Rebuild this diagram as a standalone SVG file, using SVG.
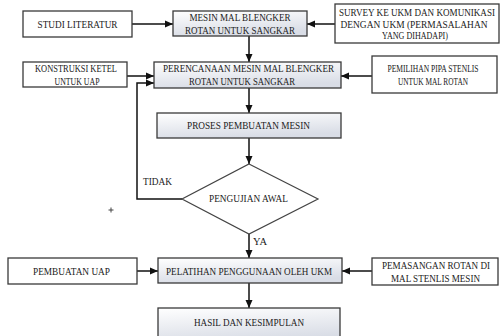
<svg xmlns="http://www.w3.org/2000/svg" width="500" height="336" viewBox="0 0 500 336">
<defs>
<linearGradient id="g" x1="0" y1="0" x2="0.3" y2="1">
<stop offset="0" stop-color="#ffffff"/>
<stop offset="1" stop-color="#d9dde6"/>
</linearGradient>
<marker id="ah" viewBox="0 0 8 8" refX="8" refY="4" markerWidth="8" markerHeight="8" markerUnits="userSpaceOnUse" orient="auto">
<path d="M0,0.5 L8,4 L0,7.5 Z" fill="#111"/>
</marker>
</defs>
<style>
.box{fill:#fff;stroke:#3a3a3a;stroke-width:1.3}
.main{fill:url(#g);stroke:#3a3a3a;stroke-width:1.3}
text{font-family:'Liberation Serif','DejaVu Serif',serif;font-size:10px;fill:#222}
.t{text-anchor:middle}
.c{fill:none;stroke:#111;stroke-width:1.5;marker-end:url(#ah)}
</style>
<rect width="500" height="336" fill="#fff"/>

<g id="connectors">
<line class="c" x1="132" y1="24" x2="173" y2="24"/>
<line class="c" x1="335" y1="24" x2="307" y2="24"/>
<line class="c" x1="249" y1="36" x2="249" y2="62"/>
<line class="c" x1="127" y1="76" x2="154" y2="76"/>
<polyline class="c" points="182,199 137,199 137,83 154,83"/>
<line class="c" x1="372" y1="76" x2="341" y2="76"/>
<line class="c" x1="249" y1="88" x2="249" y2="113"/>
<line class="c" x1="249" y1="138" x2="249" y2="164"/>
<line class="c" x1="249" y1="234" x2="249" y2="258"/>
<line class="c" x1="137" y1="271" x2="158" y2="271"/>
<line class="c" x1="372" y1="271" x2="342" y2="271"/>
<line class="c" x1="249" y1="283" x2="249" y2="308"/>
<text x="143" y="185" textLength="29" lengthAdjust="spacingAndGlyphs">TIDAK</text>
<text x="253" y="245" textLength="14" lengthAdjust="spacingAndGlyphs">YA</text>
</g>

<g id="studi">
<rect class="box" x="23" y="11" width="109" height="26"/>
<text class="t" x="77.5" y="27.5" textLength="80" lengthAdjust="spacingAndGlyphs">STUDI LITERATUR</text>
</g>

<g id="mesin">
<rect class="main" x="173" y="11" width="134" height="25"/>
<text class="t" x="240" y="20.5" textLength="101" lengthAdjust="spacingAndGlyphs">MESIN MAL BLENGKER</text>
<text class="t" x="240" y="33.5" textLength="110" lengthAdjust="spacingAndGlyphs">ROTAN UNTUK SANGKAR</text>
</g>

<g id="survey">
<rect class="box" x="335" y="4" width="164" height="39"/>
<text class="t" x="417" y="15.5" textLength="156" lengthAdjust="spacingAndGlyphs" font-size="9">SURVEY KE UKM DAN KOMUNIKASI</text>
<text class="t" x="414" y="27.5" textLength="147" lengthAdjust="spacingAndGlyphs" font-size="9.5">DENGAN UKM (PERMASALAHAN</text>
<text class="t" x="415" y="38.5" textLength="66" lengthAdjust="spacingAndGlyphs" font-size="9.5">YANG DIHADAPI)</text>
</g>

<g id="konstruksi">
<rect class="box" x="23" y="62" width="104" height="25"/>
<text class="t" x="76" y="71.5" textLength="82" lengthAdjust="spacingAndGlyphs">KONSTRUKSI KETEL</text>
<text class="t" x="77" y="84.5" textLength="45" lengthAdjust="spacingAndGlyphs">UNTUK UAP</text>
</g>

<g id="perencanaan">
<rect class="main" x="154" y="62" width="187" height="26"/>
<text class="t" x="248.5" y="72" textLength="171" lengthAdjust="spacingAndGlyphs" font-size="9.5">PERENCANAAN MESIN MAL BLENGKER</text>
<text class="t" x="242" y="85" textLength="106" lengthAdjust="spacingAndGlyphs">ROTAN UNTUK SANGKAR</text>
</g>

<g id="pemilihan">
<rect class="box" x="372" y="56" width="125" height="37"/>
<text class="t" x="433" y="72" textLength="91" lengthAdjust="spacingAndGlyphs" font-size="9.5">PEMILIHAN PIPA STENLIS</text>
<text class="t" x="433" y="84.5" textLength="70" lengthAdjust="spacingAndGlyphs">UNTUK MAL ROTAN</text>
</g>

<g id="proses">
<rect class="main" x="157" y="113" width="184" height="25"/>
<text class="t" x="248.5" y="128.5" textLength="123" lengthAdjust="spacingAndGlyphs">PROSES PEMBUATAN MESIN</text>
</g>

<g id="pengujian">
<polygon points="249,164 318,199 249,234 182,199" fill="#fff" stroke="#444" stroke-width="1.2"/>
<text class="t" x="248.5" y="202" textLength="79" lengthAdjust="spacingAndGlyphs">PENGUJIAN AWAL</text>
</g>

<g id="plus">
<path d="M108.5,210 H113.5 M111,207.5 V212.5" stroke="#444" stroke-width="1"/>
</g>

<g id="pembuatan-uap">
<rect class="box" x="8" y="258" width="129" height="26"/>
<text class="t" x="71.5" y="275" textLength="77" lengthAdjust="spacingAndGlyphs">PEMBUATAN UAP</text>
</g>

<g id="pelatihan">
<rect class="main" x="158" y="258" width="184" height="25"/>
<text class="t" x="249" y="275" textLength="166" lengthAdjust="spacingAndGlyphs">PELATIHAN PENGGUNAAN OLEH UKM</text>
</g>

<g id="pemasangan">
<rect class="box" x="372" y="258" width="126" height="27"/>
<text class="t" x="436" y="268.5" textLength="108" lengthAdjust="spacingAndGlyphs">PEMASANGAN ROTAN DI</text>
<text class="t" x="435.5" y="281.5" textLength="89" lengthAdjust="spacingAndGlyphs">MAL STENLIS MESIN</text>
</g>

<g id="hasil">
<rect class="main" x="158" y="308" width="182" height="34"/>
<text class="t" x="249" y="325.5" textLength="110" lengthAdjust="spacingAndGlyphs">HASIL DAN KESIMPULAN</text>
</g>
</svg>
